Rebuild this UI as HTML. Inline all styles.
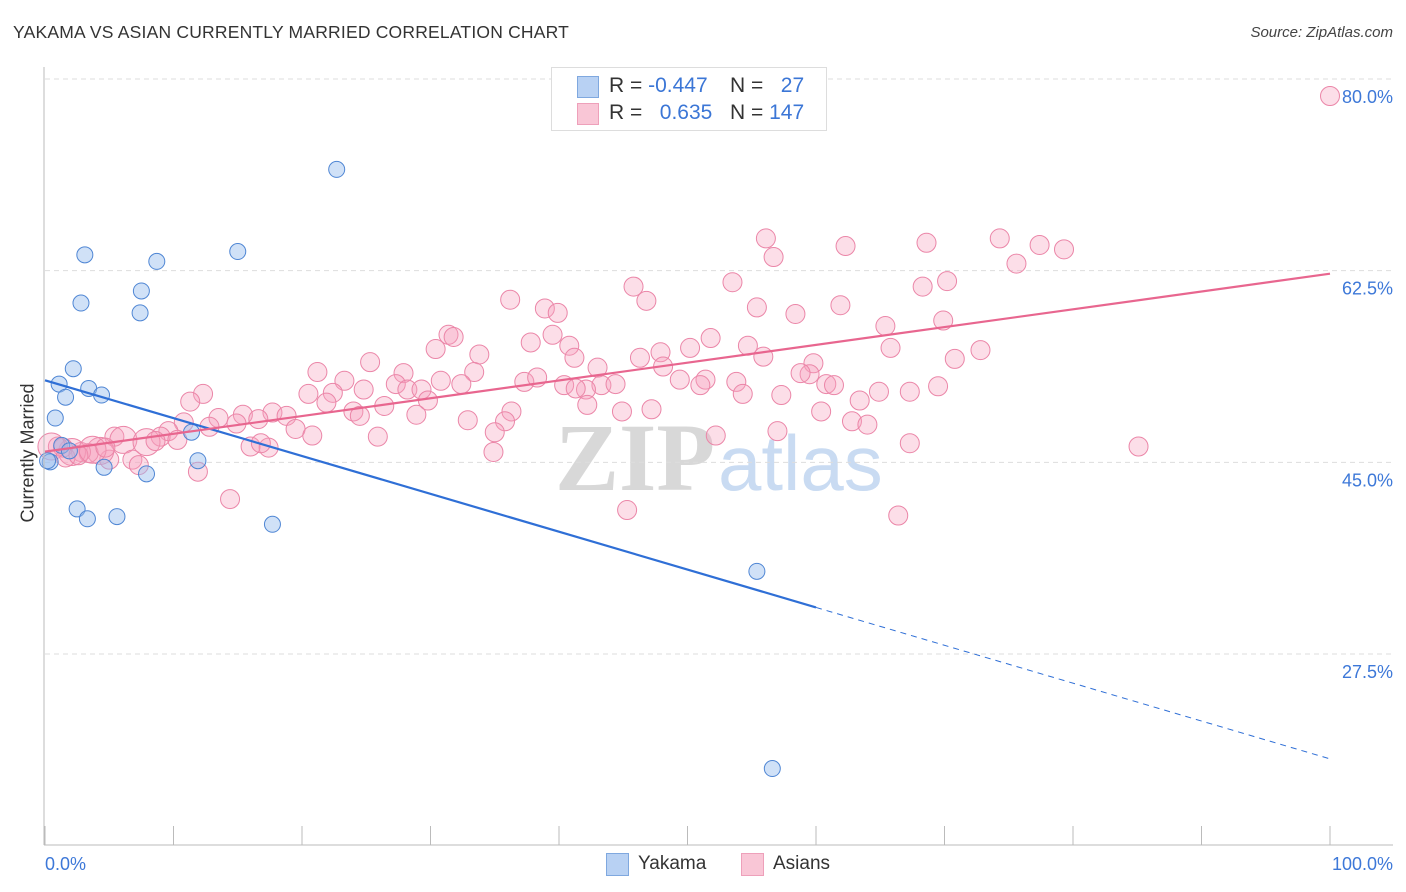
<!DOCTYPE html>
<html><head><meta charset="utf-8">
<style>
body{margin:0;background:#fff;font-family:"Liberation Sans",sans-serif;}
#wrap{position:relative;width:1406px;height:892px;overflow:hidden;}
.t{position:absolute;white-space:nowrap;}
</style></head>
<body>
<div id="wrap">
<div class="t" style="left:13px;top:22px;font-size:17.5px;color:#333;letter-spacing:0.2px">YAKAMA VS ASIAN CURRENTLY MARRIED CORRELATION CHART</div>
<div class="t" style="right:13px;top:24px;font-size:15px;color:#444;font-style:italic">Source: ZipAtlas.com</div>
<svg id="plot" width="1406" height="892" style="position:absolute;left:0;top:0">
<text x="555" y="490" font-family="Liberation Serif,serif" font-size="96" font-weight="bold" fill="#d8d8d8">ZIP</text>
<text x="718" y="490" font-family="Liberation Sans,sans-serif" font-size="78" fill="#c9dbf2">atlas</text>
<g id="grid"></g><g id="pts"></g><g id="lines"></g><g id="axes"></g>
</svg>
<div style="position:absolute;left:551px;top:67px;width:274px;height:62px;border:1px solid #ddd;background:#fff;font-size:21px;color:#333">
 <div style="position:absolute;left:25px;top:8px;width:20px;height:20px;background:#b8d1f3;border:1px solid #7fa8df"></div>
 <div class="t" style="left:57px;top:6px">R = <span style="color:#3b76d6">-0.447</span></div>
 <div class="t" style="left:178px;top:6px">N = &nbsp;&nbsp;<span style="color:#3b76d6">27</span></div>
 <div style="position:absolute;left:25px;top:35px;width:20px;height:20px;background:#f9c6d6;border:1px solid #eea0ba"></div>
 <div class="t" style="left:57px;top:33px">R = &nbsp;&nbsp;<span style="color:#3b76d6">0.635</span></div>
 <div class="t" style="left:178px;top:33px">N = <span style="color:#3b76d6">147</span></div>
</div>
<div style="position:absolute;left:606px;top:853px;width:21px;height:21px;background:#b8d1f3;border:1px solid #7fa8df"></div>
<div class="t" style="left:638px;top:853px;font-size:19px;color:#333">Yakama</div>
<div style="position:absolute;left:741px;top:853px;width:21px;height:21px;background:#f9c6d6;border:1px solid #eea0ba"></div>
<div class="t" style="left:773px;top:853px;font-size:19px;color:#333">Asians</div>
<div class="t" style="left:-40px;top:444px;width:136px;text-align:center;font-size:18px;color:#333;transform:rotate(-90deg)">Currently Married</div>
</div>
<script>
const yTicks=[80,62.5,45,27.5];
const yTickLabels=["80.0%","62.5%","45.0%","27.5%"];
const xTickCount=10;
const yakamaX=[22.7,3.1,8.7,15.0,7.5,2.8,7.4,2.2,1.1,3.4,4.4,1.6,0.8,11.4,11.9,4.6,7.9,0.4,2.5,3.3,5.6,17.7,55.4,56.6,1.3,1.9,0.2];
const yakamaY=[73.3,65.5,64.9,65.8,62.2,61.1,60.2,55.1,53.7,53.3,52.7,52.5,50.6,49.3,46.7,46.1,45.5,46.6,42.3,41.4,41.6,40.9,36.6,18.6,48.1,47.6,46.7];
const asiansX=[100,56.1,62.3,68.6,74.3,77.4,79.3,56.7,75.6,53.5,45.8,68.3,70.2,36.2,46.8,38.9,39.9,55.4,61.9,58.4,69.9,65.4,31.4,31.8,37.8,39.5,30.4,40.8,33.8,51.8,50.2,47.9,46.3,41.2,25.3,43.0,48.1,54.7,55.9,72.8,70.8,65.8,59.8,59.5,58.8,21.2,27.9,33.4,23.3,30.8,27.3,32.4,37.3,38.3,40.4,43.3,44.4,53.8,51.4,49.4,51.0,60.8,61.4,69.5,67.3,64.9,42.1,41.3,12.3,20.5,22.4,24.8,28.2,29.3,29.8,26.4,21.9,24.0,24.5,28.9,36.3,32.9,35.8,35.0,42.2,44.9,47.2,54.3,57.3,63.4,60.4,62.8,64.0,57.0,67.3,85.1,52.2,11.3,13.5,15.4,17.7,18.8,10.8,9.6,9.0,12.8,14.9,16.6,19.5,20.8,25.9,16.0,17.4,16.8,34.9,11.9,14.4,45.3,66.4,5.4,6.1,6.8,5.0,7.9,8.6,10.3,4.3,3.4,2.8,2.1,1.4,1.0,0.5,1.6,2.6,3.7,7.3,4.7];
const asiansY=[80.0,67.0,66.3,66.6,67.0,66.4,66.0,65.3,64.7,63.0,62.6,62.6,63.1,61.4,61.3,60.6,60.2,60.7,60.9,60.1,59.5,59.0,58.2,58.0,57.5,58.2,56.9,57.2,56.4,57.9,57.0,56.6,56.1,56.1,55.7,55.2,55.3,57.2,56.2,56.8,56.0,57.0,55.6,54.6,54.7,54.8,54.7,54.8,54.0,54.0,53.7,53.7,53.9,54.3,53.6,53.6,53.7,53.9,54.1,54.1,53.6,53.7,53.6,53.5,53.0,53.0,53.2,53.3,52.8,52.8,52.9,53.2,53.2,53.2,52.2,51.7,52.0,51.2,50.8,50.9,51.2,50.4,50.3,49.3,51.8,51.2,51.4,52.8,52.7,52.2,51.2,50.3,50.0,49.4,48.3,48.0,49.0,52.1,50.6,50.9,51.1,50.8,50.2,49.4,48.9,49.8,50.1,50.5,49.6,49.0,48.9,48.0,47.9,48.3,47.5,45.7,43.2,42.2,41.7,48.9,48.6,46.8,46.8,48.4,48.5,48.6,47.6,47.4,47.5,47.5,47.9,48.0,48.0,47.0,47.2,47.7,46.3,47.9];
const X0=45,X1=1330,Y80=96,PXPCT=10.953;
const xs=v=>X0+(X1-X0)*v/100;
const ys=v=>Y80+(80-v)*PXPCT;
const NS="http://www.w3.org/2000/svg";
function mk(tag,parent,attrs){const e=document.createElementNS(NS,tag);for(const k in attrs)e.setAttribute(k,attrs[k]);parent.appendChild(e);return e;}
const grid=document.getElementById('grid'),axes=document.getElementById('axes'),pts=document.getElementById('pts'),lines=document.getElementById('lines');
yTicks.forEach((t,i)=>{
 const gy=ys(t)-17;
 const g=mk('line',grid,{x1:45,x2:1393,y1:gy,y2:gy,stroke:'#ddd','stroke-dasharray':'5,4'});
 
 
 const l=mk('text',axes,{x:1393,y:ys(t)+7,'text-anchor':'end','font-size':18,fill:'#3d78d8','font-family':'Liberation Sans,sans-serif'});
 l.textContent=yTickLabels[i];
 
 
});
let a=mk('line',axes,{x1:44,x2:44,y1:67,y2:845,stroke:'#bbb'});


a=mk('line',axes,{x1:44,x2:1393,y1:845,y2:845,stroke:'#bbb'});


for(let i=0;i<=xTickCount;i++){const x=xs(i*100/xTickCount);
 const tk=mk('line',axes,{x1:x,x2:x,y1:826,y2:845,stroke:'#bbb'});
 
 }
let xl=mk('text',axes,{x:45,y:870,'font-size':18,fill:'#3d78d8','font-family':'Liberation Sans,sans-serif'});xl.textContent='0.0%';


xl=mk('text',axes,{x:1393,y:870,'text-anchor':'end','font-size':18,fill:'#3d78d8','font-family':'Liberation Sans,sans-serif'});xl.textContent='100.0%';


asiansX.forEach((v,i)=>{const r=(v<8&&i%3==0)?13.5:9.5;
 const c=mk('circle',pts,{cx:xs(v),cy:ys(asiansY[i]),r:r,fill:'rgba(246,160,188,0.35)',stroke:'#eb86a8','stroke-width':1});
 
 });
yakamaX.forEach((v,i)=>{
 const c=mk('circle',pts,{cx:xs(v),cy:ys(yakamaY[i]),r:8,fill:'rgba(150,188,238,0.45)',stroke:'#4f86d4','stroke-width':1});
 
 });
function fit(X,Y){const n=X.length;let mx=0,my=0;X.forEach((v,i)=>{mx+=v;my+=Y[i];});mx/=n;my/=n;let sxy=0,sxx=0;X.forEach((v,i)=>{sxy+=(v-mx)*(Y[i]-my);sxx+=(v-mx)*(v-mx);});const b=sxy/sxx;return [my-b*mx,b];}
const fb=fit(yakamaX,yakamaY),fp=fit(asiansX,asiansY);
let ln=mk('line',lines,{x1:xs(0),y1:ys(fb[0]),x2:xs(60),y2:ys(fb[0]+fb[1]*60),stroke:'#2f6fd6','stroke-width':2.2});


ln=mk('line',lines,{x1:xs(60),y1:ys(fb[0]+fb[1]*60),x2:xs(100),y2:ys(fb[0]+fb[1]*100),stroke:'#2f6fd6','stroke-width':1,'stroke-dasharray':'6,5'});


ln=mk('line',lines,{x1:xs(0),y1:ys(fp[0]),x2:xs(100),y2:ys(fp[0]+fp[1]*100),stroke:'#e8668f','stroke-width':2.2});


</script>
</body></html>
